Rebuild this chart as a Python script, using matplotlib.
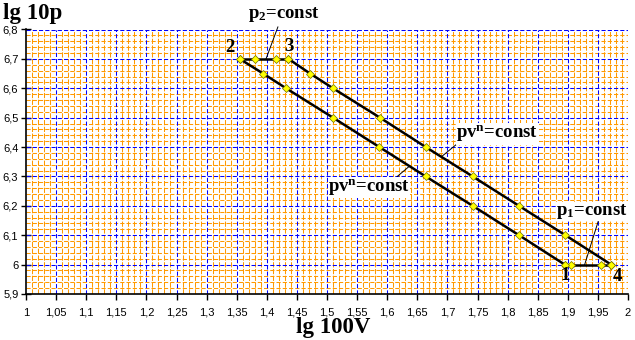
import numpy as np
import matplotlib
matplotlib.use("Agg")
import matplotlib.pyplot as plt
from matplotlib.ticker import MultipleLocator, FuncFormatter

plt.rcParams["mathtext.fontset"] = "custom"
plt.rcParams["mathtext.rm"] = "Liberation Serif:bold"
plt.rcParams["mathtext.it"] = "Liberation Serif:bold"
plt.rcParams["mathtext.bf"] = "Liberation Serif:bold"

# polytropic compression 1-2
lg_v_12 = [1.895, 1.819, 1.742, 1.664, 1.587, 1.51, 1.432, 1.394, 1.355]
lg_p_12 = [6.0, 6.1, 6.2, 6.3, 6.4, 6.5, 6.6, 6.65, 6.7]
# isobar p2 = const, 2-3
lg_v_23 = [1.355, 1.38, 1.415, 1.436]
lg_p_23 = [6.7, 6.7, 6.7, 6.7]
# polytropic expansion 3-4
lg_v_34 = [1.436, 1.472, 1.51, 1.588, 1.664, 1.742, 1.819, 1.896, 1.972]
lg_p_34 = [6.7, 6.65, 6.6, 6.5, 6.4, 6.3, 6.2, 6.1, 6.0]
# isobar p1 = const, 4-1
lg_v_41 = [1.972, 1.955, 1.905, 1.895]
lg_p_41 = [6.0, 6.0, 6.0, 6.0]

fig = plt.figure(figsize=(6.35, 3.4), dpi=100)
ax = fig.add_axes([26/635, 1-294/340, (628-26)/635, (294-29.5)/340])

ax.set_xlim(1, 2)
ax.set_ylim(5.9, 6.8)

# excel-like dashed grids
glw = 0.75
for xv in np.arange(1.01, 2.0, 0.01):
    if abs(round(xv/0.05) * 0.05 - xv) > 1e-6:
        ax.axvline(xv, color="#FF9900", lw=glw, ls=(0, (5, 1.5)), snap=True, zorder=1)
for yv in np.arange(5.92, 6.8, 0.02):
    if abs(round(yv/0.1) * 0.1 - yv) > 1e-6:
        ax.axhline(yv, color="#FF9900", lw=glw, ls=(0, (4, 2)), snap=True, zorder=1)
for xv in np.arange(1.05, 2.001, 0.05):
    ax.axvline(xv, color="#0000FF", lw=glw, ls=(0, (4, 2)), snap=True, zorder=2)
for yv in np.arange(6.0, 6.801, 0.1):
    ax.axhline(yv, color="#0000FF", lw=glw, ls=(0, (4, 2)), snap=True, zorder=2)

mk = dict(color="black", lw=1.8, marker="D", ms=4.5, mfc="#FFFF00",
          mec="#707000", mew=0.5, zorder=5)
ax.plot(lg_v_12, lg_p_12, **mk)
ax.plot(lg_v_23, lg_p_23, **mk)
ax.plot(lg_v_34, lg_p_34, **mk)
ax.plot(lg_v_41, lg_p_41, **mk)

ax.xaxis.set_major_locator(MultipleLocator(0.05))
ax.yaxis.set_major_locator(MultipleLocator(0.1))
fmt = FuncFormatter(lambda v, p: ("%.2f" % v).rstrip("0").rstrip(".").replace(".", ","))
ax.xaxis.set_major_formatter(fmt)
ax.yaxis.set_major_formatter(fmt)
ax.tick_params(axis="x", direction="out", length=4, width=1, labelsize=8, pad=6)
ax.tick_params(axis="y", direction="inout", length=7, width=1, labelsize=8, pad=2)
for lab in ax.get_xticklabels() + ax.get_yticklabels():
    lab.set_fontfamily("Liberation Sans")

ax.spines["top"].set_visible(False)
ax.spines["right"].set_visible(False)
ax.spines["left"].set_linewidth(1.2)
ax.spines["bottom"].set_linewidth(1.2)

serif = dict(family="Liberation Serif", fontweight="bold")
fig.text(3/635, 1-13/340, "lg 10p", fontsize=16.5, va="center", ha="left", **serif)
fig.text(333/635, 1-328/340, "lg 100V", fontsize=16.5, va="center", ha="center", **serif)

fs = 13.5
ax.text(1.339, 6.739, "2", fontsize=fs, ha="center", va="center", zorder=7, **serif)
ax.text(1.436, 6.742, "3", fontsize=fs, ha="center", va="center", zorder=7, **serif)
ax.text(1.895, 5.963, "1", fontsize=fs, ha="center", va="center", zorder=7, **serif)
ax.text(1.982, 5.96, "4", fontsize=fs, ha="center", va="center", zorder=7, **serif)

bb = dict(facecolor="white", edgecolor="none", pad=0.3)
ax.annotate("p$_2$=const", xy=(1.3987, 6.7), xytext=(1.4286, 6.851),
            fontsize=fs, ha="center", va="center", annotation_clip=False,
            arrowprops=dict(arrowstyle="-", lw=0.7, color="black", shrinkA=0, shrinkB=0,
                            relpos=(0.43, 0.0)),
            zorder=7, **serif)
ax.annotate("pv$^n$=const", xy=(1.690, 6.367), xytext=(1.783, 6.445),
            fontsize=fs, ha="center", va="center", bbox=bb,
            arrowprops=dict(arrowstyle="-", lw=0.7, color="black", shrinkA=0, shrinkB=0,
                            relpos=(0.02, 0.05)),
            zorder=7, **serif)
ax.annotate("pv$^n$=const", xy=(1.637, 6.335), xytext=(1.570, 6.263),
            fontsize=fs, ha="center", va="center", bbox=bb,
            arrowprops=dict(arrowstyle="-", lw=0.7, color="black", shrinkA=0, shrinkB=0,
                            relpos=(0.82, 0.95)),
            zorder=7, **serif)
ax.annotate("p$_1$=const", xy=(1.928, 6.0), xytext=(1.940, 6.181),
            fontsize=fs, ha="center", va="center", bbox=bb,
            arrowprops=dict(arrowstyle="-", lw=0.7, color="black", shrinkA=0, shrinkB=0,
                            relpos=(0.59, 0.0)),
            zorder=7, **serif)

fig.savefig("out.png", dpi=100)
